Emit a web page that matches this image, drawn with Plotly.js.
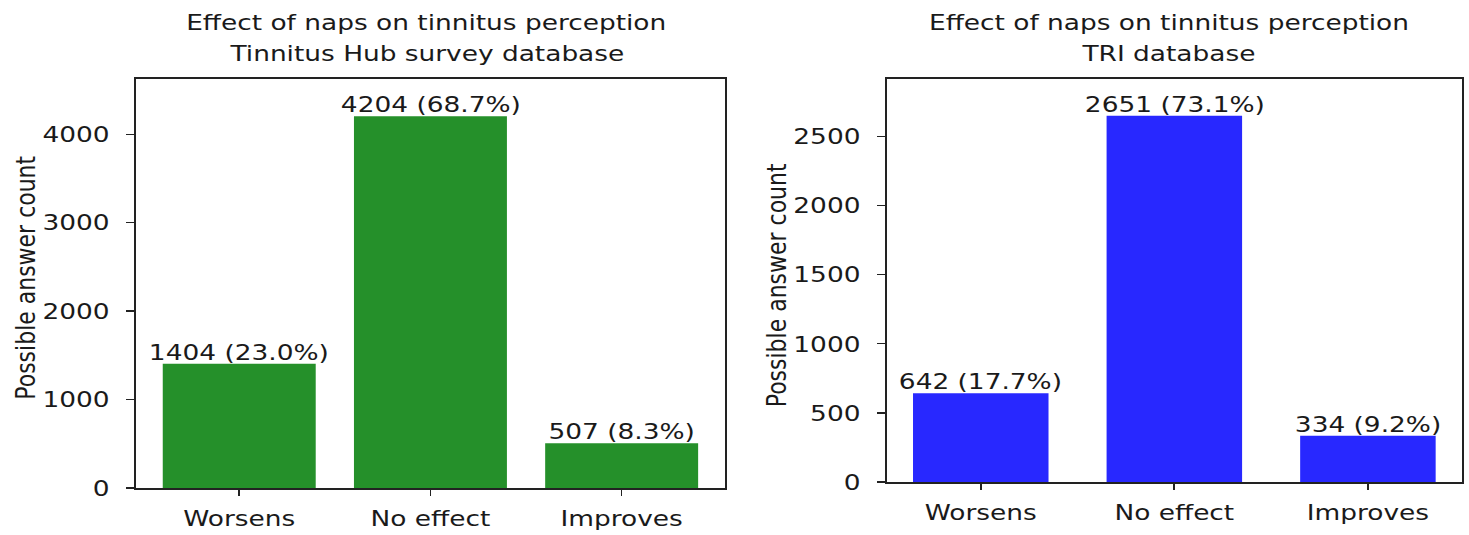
<!DOCTYPE html>
<html>
<head>
<meta charset="utf-8">
<script src="https://cdn.plot.ly/plotly-3.0.1.min.js"></script>
<style>
html,body{margin:0;padding:0;background:#fff;overflow:hidden;}
#wrap{width:1469px;height:535px;overflow:hidden;}
#chart{transform-origin:0 0;}
</style>
</head>
<body>
<div id="wrap"><div id="chart"></div></div>
<script>
// ---- data ----
const categories = ["Worsens", "No effect", "Improves"];
const hubCounts = [1404, 4204, 507];
const triCounts = [642, 2651, 334];
const hubTitle = ["Effect of naps on tinnitus perception", "Tinnitus Hub survey database"];
const triTitle = ["Effect of naps on tinnitus perception", "TRI database"];
const yLabel = "Possible answer count";
const hubTicks = [0, 1000, 2000, 3000, 4000];
const triTicks = [0, 500, 1000, 1500, 2000, 2500];

// ---- styling ----
const FONT = "DejaVu Sans, sans-serif";
const FS = 22;
const TXT = "#1a1a1a";
const W = 1469, H = 535;
const SX = 1.2;            // horizontal stretch of the reference picture
const PW = W / SX;         // plot width before stretch
document.getElementById("chart").style.transform = "scaleX(" + SX + ")";
const px = v => v / W;     // fractions are unchanged by the stretch
const py = v => 1 - v / H;

function labels(vals) {
  const s = vals.reduce((a, b) => a + b, 0);
  return vals.map(v => v + " (" + (100 * v / s).toFixed(1) + "%)");
}

const traces = [
  {type: "bar", x: categories, y: hubCounts, xaxis: "x", yaxis: "y",
   width: 0.8, marker: {color: "#25902a", line: {width: 0}}, hoverinfo: "skip"},
  {type: "bar", x: categories, y: triCounts, xaxis: "x2", yaxis: "y2",
   width: 0.7, marker: {color: "#2828ff", line: {width: 0}}, hoverinfo: "skip"}
];

const axisCommon = {
  showline: true, mirror: true, linecolor: "#222", linewidth: 1.6,
  ticks: "outside", ticklen: 7, tickwidth: 1.4, tickcolor: "#222",
  showgrid: false, zeroline: false,
  tickfont: {family: FONT, size: FS, color: TXT}, fixedrange: true
};

const layout = {
  width: PW, height: H,
  margin: {l: 0, r: 0, t: 0, b: 0},
  paper_bgcolor: "#fff", plot_bgcolor: "#fff",
  showlegend: false,
  font: {family: FONT, size: FS, color: TXT},
  xaxis: Object.assign({}, axisCommon, {domain: [px(136), px(725)], anchor: "y",
    type: "category", range: [-0.54, 2.54], ticklabelstandoff: 4, ticklen: 6}),
  yaxis: Object.assign({}, axisCommon, {domain: [1 - 488 / H, 1 - 79 / H], anchor: "x",
    range: [0, Math.max(...hubCounts) * 1.1], tickvals: hubTicks, ticktext: hubTicks.map(String), ticklabelstandoff: 9}),
  xaxis2: Object.assign({}, axisCommon, {domain: [px(887), px(1462)], anchor: "y2",
    type: "category", range: [-0.485, 2.485], ticklabelstandoff: 4, ticklen: 6}),
  yaxis2: Object.assign({}, axisCommon, {domain: [1 - 482 / H, 1 - 79 / H], anchor: "x2",
    range: [0, Math.max(...triCounts) * 1.1], tickvals: triTicks, ticktext: triTicks.map(String), ticklabelstandoff: 9}),
  annotations: []
};

const ann = layout.annotations;
function barLabels(vals, xa, ya) {
  labels(vals).forEach((t, i) => {
    ann.push({xref: xa, yref: ya, x: categories[i], y: vals[i], text: t,
      showarrow: false, xanchor: "center", yanchor: "bottom", yshift: -3,
      font: {family: FONT, size: FS, color: TXT}});
  });
}
barLabels(hubCounts, "x", "y");
barLabels(triCounts, "x2", "y2");

function title(lines, cx) {
  ann.push({xref: "paper", yref: "paper", x: px(cx), y: py(23), text: lines[0],
    showarrow: false, xanchor: "center", yanchor: "middle", font: {family: FONT, size: FS, color: TXT}});
  ann.push({xref: "paper", yref: "paper", x: px(cx), y: py(54), text: lines[1],
    showarrow: false, xanchor: "center", yanchor: "middle", font: {family: FONT, size: FS, color: TXT}});
}
title(hubTitle, (136 + 725) / 2 - 4);
title(triTitle, (887 + 1462) / 2 - 6);

function ylab(cx, cy) {
  ann.push({xref: "paper", yref: "paper", x: px(cx), y: py(cy), text: yLabel, textangle: -90,
    showarrow: false, xanchor: "center", yanchor: "middle", font: {family: FONT, size: FS, color: TXT}});
}
ylab(25, 278);
ylab(777, 285);

Plotly.newPlot("chart", traces, layout, {displayModeBar: false, staticPlot: true});
</script>
</body>
</html>
